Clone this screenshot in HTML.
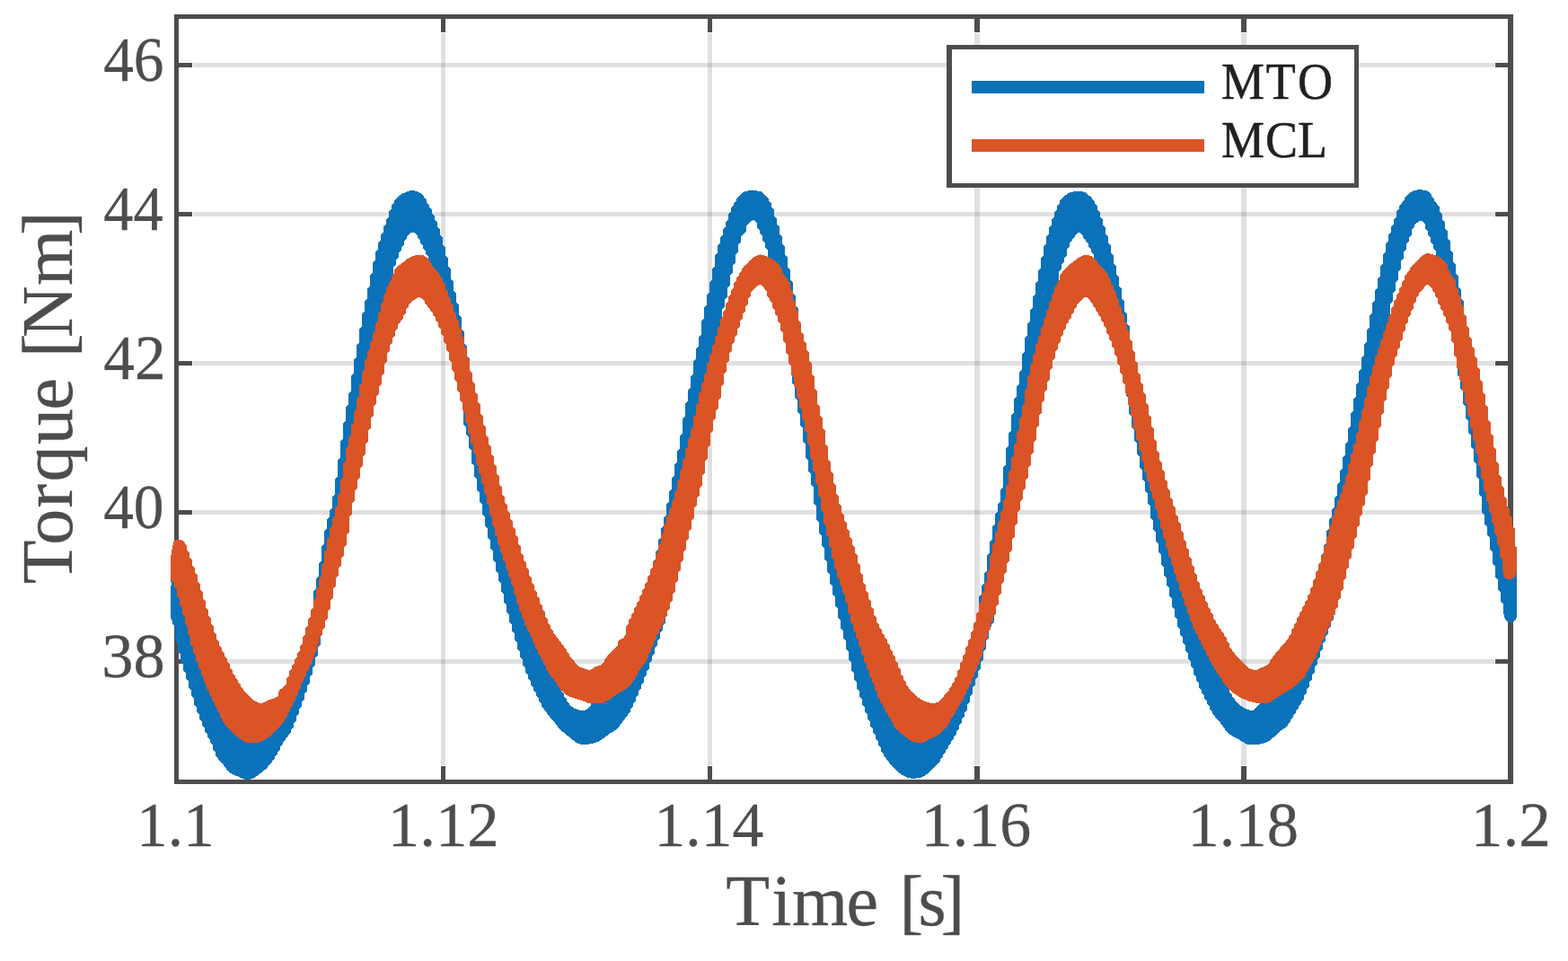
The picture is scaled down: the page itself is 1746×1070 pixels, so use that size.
<!DOCTYPE html>
<html lang="en"><head><meta charset="utf-8"><title>Torque vs Time</title>
<style>html,body{margin:0;padding:0;background:#fff;overflow:hidden}svg{display:block}</style>
</head><body>
<svg width="1746" height="1070" viewBox="0 0 1746 1070" role="img" aria-label="Torque [Nm] versus Time [s] for MTO and MCL">
<rect width="1746" height="1070" fill="#fff"/>
<g fill="rgb(100,100,110)" fill-opacity="0.2" shape-rendering="crispEdges"><rect x="491" y="37" width="5" height="815"/><rect x="788" y="37" width="5" height="815"/><rect x="1085" y="37" width="6" height="815"/><rect x="1382" y="37" width="6" height="815"/><rect x="215" y="70" width="1449" height="5"/><rect x="215" y="236" width="1449" height="5"/><rect x="215" y="402" width="1449" height="5"/><rect x="215" y="568" width="1449" height="5"/><rect x="215" y="734" width="1449" height="5"/></g>
<g fill="#4d4d4f" shape-rendering="crispEdges"><rect x="491" y="853" width="5" height="16"/><rect x="491" y="20" width="5" height="16"/><rect x="788" y="853" width="5" height="16"/><rect x="788" y="20" width="5" height="16"/><rect x="1085" y="853" width="6" height="16"/><rect x="1085" y="20" width="6" height="16"/><rect x="1382" y="853" width="6" height="16"/><rect x="1382" y="20" width="6" height="16"/><rect x="198" y="70" width="16" height="5"/><rect x="1665" y="70" width="15" height="5"/><rect x="198" y="236" width="16" height="5"/><rect x="1665" y="236" width="15" height="5"/><rect x="198" y="402" width="16" height="5"/><rect x="1665" y="402" width="15" height="5"/><rect x="198" y="568" width="16" height="5"/><rect x="1665" y="568" width="15" height="5"/><rect x="198" y="734" width="16" height="5"/><rect x="1665" y="734" width="15" height="5"/><path d="M194 16H1685V873H194Z M199 21V868H1679V21Z" fill-rule="evenodd"/></g>
<g shape-rendering="crispEdges"><path d="M189.5,637.8 190.2,636.3 190.2,635.5 193.2,635.1 196.2,638.6 196.2,642.3 199.2,645.3 199.2,649.4 202.2,652.4 202.2,656.9 205.2,659.9 205.2,664.8 208.2,666.3 211.2,666.3 214.2,666.3 217.2,666.3 220.2,670.4 220.2,676.6 223.2,679.6 223.2,685.8 226.2,688.8 226.2,695.1 229.2,698.1 229.2,704.3 232.2,707.3 232.2,712.5 235.2,715.5 235.2,720.8 238.2,723.8 238.2,729.0 241.2,732.0 241.2,736.0 244.2,739.0 244.2,742.3 247.2,745.3 247.2,748.2 250.2,751.2 250.2,753.6 253.2,756.6 253.2,758.9 256.2,761.9 256.2,765.1 259.2,768.1 259.2,770.0 262.2,773.0 262.2,774.2 265.2,777.2 265.2,778.5 268.2,781.5 268.2,782.4 271.2,785.6 274.2,788.6 277.2,790.7 280.2,792.6 283.2,794.2 286.2,795.2 289.2,795.8 292.2,795.6 295.2,794.2 298.2,792.5 301.2,790.9 304.2,789.3 307.2,787.8 310.2,785.4 310.2,781.7 313.2,778.7 316.2,776.2 319.2,772.5 319.2,766.2 322.2,763.2 322.2,759.7 325.2,756.7 325.2,753.5 328.2,750.5 328.2,746.9 331.2,743.9 331.2,739.8 334.2,736.8 334.2,731.5 337.2,728.5 337.2,722.6 340.2,719.6 340.2,713.7 343.2,710.7 343.2,704.8 346.2,701.8 346.2,695.7 349.2,692.7 349.2,658.5 352.2,655.5 352.2,644.2 355.2,641.2 355.2,627.4 358.2,624.4 358.2,607.9 361.2,604.9 361.2,591.0 364.2,588.0 364.2,578.3 367.2,575.3 367.2,568.5 370.2,565.5 370.2,553.1 373.2,550.1 373.2,533.1 376.2,530.1 376.2,512.8 379.2,509.8 379.2,491.5 382.2,488.5 382.2,471.4 385.2,468.4 385.2,453.5 388.2,450.5 388.2,438.4 391.2,435.4 391.2,418.7 394.2,415.7 394.2,400.3 397.2,397.3 397.2,384.5 400.2,381.5 400.2,366.6 403.2,363.6 403.2,349.8 406.2,346.8 406.2,335.8 409.2,332.8 409.2,321.8 412.2,318.8 412.2,306.2 415.2,303.2 415.2,292.2 418.2,289.2 418.2,280.6 421.2,277.6 421.2,270.5 424.2,267.5 424.2,261.0 427.2,258.0 427.2,252.1 430.2,249.1 430.2,244.4 433.2,241.4 433.2,235.2 436.2,232.2 436.2,228.3 439.2,225.3 439.2,223.4 442.2,220.2 445.2,217.6 448.2,215.6 451.2,214.2 454.2,213.0 457.2,212.2 460.2,212.1 463.2,212.7 466.2,213.9 469.2,215.4 472.2,218.3 472.2,219.9 475.2,222.9 475.2,225.3 478.2,228.3 478.2,231.2 481.2,234.2 481.2,237.6 484.2,240.6 484.2,244.6 487.2,247.6 487.2,253.1 490.2,256.1 490.2,262.1 493.2,265.1 493.2,272.4 496.2,275.4 496.2,284.3 499.2,287.3 499.2,297.0 502.2,300.0 502.2,310.5 505.2,313.5 505.2,323.9 508.2,326.9 508.2,337.1 511.2,340.1 511.2,351.0 514.2,354.0 514.2,366.8 517.2,369.8 517.2,383.2 520.2,386.2 520.2,396.6 523.2,399.6 523.2,437.3 526.2,440.3 526.2,448.8 529.2,451.8 529.2,460.8 532.2,463.8 532.2,472.4 535.2,475.4 535.2,484.3 538.2,487.3 538.2,496.5 541.2,499.5 541.2,508.0 544.2,511.0 544.2,518.6 547.2,521.6 547.2,529.7 550.2,532.7 550.2,541.0 553.2,544.0 553.2,551.9 556.2,554.9 556.2,562.7 559.2,565.7 559.2,572.8 562.2,575.8 562.2,582.2 565.2,585.2 565.2,590.9 568.2,593.9 568.2,599.5 571.2,602.5 571.2,608.8 574.2,611.8 574.2,618.5 577.2,621.5 577.2,628.5 580.2,631.5 580.2,637.5 583.2,640.5 583.2,645.7 586.2,648.7 586.2,653.4 589.2,656.4 589.2,660.9 592.2,663.9 592.2,668.5 595.2,671.5 595.2,676.3 598.2,679.3 598.2,685.5 601.2,688.5 601.2,696.5 604.2,699.5 604.2,707.6 607.2,710.6 607.2,718.6 610.2,721.6 610.2,729.7 613.2,732.7 613.2,736.8 616.2,739.8 616.2,740.9 619.2,743.9 619.2,759.2 622.2,762.2 622.2,764.1 625.2,767.1 625.2,769.6 628.2,772.6 628.2,776.0 631.2,779.0 631.2,780.5 634.2,783.5 634.2,784.3 637.2,787.2 640.2,788.9 643.2,790.0 646.2,790.8 649.2,791.1 652.2,790.5 655.2,788.5 658.2,785.5 658.2,780.5 661.2,777.5 661.2,772.6 664.2,770.9 667.2,768.1 667.2,764.2 670.2,761.2 670.2,757.3 673.2,754.3 673.2,750.4 676.2,747.4 676.2,745.6 679.2,742.5 682.2,739.9 685.2,737.1 688.2,733.6 688.2,732.2 691.2,729.7 694.2,727.3 694.2,725.4 697.2,722.4 697.2,717.7 700.2,714.7 700.2,712.2 703.2,709.2 703.2,706.5 706.2,703.5 706.2,700.4 709.2,697.4 709.2,694.3 712.2,691.3 712.2,688.2 715.2,685.2 715.2,682.1 718.2,679.1 718.2,675.4 721.2,672.4 721.2,668.1 724.2,665.1 724.2,660.3 727.2,657.3 727.2,625.6 730.2,622.6 730.2,614.6 733.2,611.6 733.2,601.8 736.2,598.8 736.2,588.7 739.2,585.7 739.2,576.5 742.2,573.5 742.2,561.3 745.2,558.3 745.2,547.7 748.2,544.7 748.2,532.4 751.2,529.4 751.2,517.1 754.2,514.1 754.2,501.9 757.2,498.9 757.2,485.5 760.2,482.5 760.2,466.7 763.2,463.7 763.2,449.3 766.2,446.3 766.2,434.3 769.2,431.3 769.2,419.7 772.2,416.7 772.2,402.5 775.2,399.5 775.2,388.7 778.2,385.7 778.2,374.9 781.2,371.9 781.2,356.9 784.2,353.9 784.2,342.0 787.2,339.0 787.2,328.4 790.2,325.4 790.2,314.6 793.2,311.6 793.2,298.9 796.2,295.9 796.2,284.6 799.2,281.6 799.2,273.5 802.2,270.5 802.2,264.0 805.2,261.0 805.2,255.4 808.2,252.4 808.2,247.0 811.2,244.0 811.2,238.7 814.2,235.7 814.2,231.4 817.2,228.4 817.2,226.4 820.2,223.4 820.2,221.6 823.2,218.6 823.2,217.9 826.2,215.1 829.2,213.4 832.2,212.6 835.2,212.2 838.2,212.0 841.2,212.2 844.2,212.6 847.2,213.2 850.2,215.4 853.2,218.3 853.2,218.9 856.2,221.9 856.2,224.1 859.2,227.1 859.2,231.1 862.2,234.1 862.2,240.6 865.2,243.6 865.2,250.2 868.2,253.2 868.2,260.8 871.2,263.8 871.2,271.3 874.2,274.3 874.2,283.5 877.2,286.5 877.2,297.7 880.2,300.7 880.2,312.1 883.2,315.1 883.2,326.9 886.2,329.9 886.2,340.5 889.2,343.5 889.2,386.9 892.2,389.9 892.2,399.1 895.2,402.1 895.2,410.0 898.2,413.0 898.2,421.3 901.2,424.3 901.2,434.3 904.2,437.3 904.2,449.6 907.2,452.6 907.2,465.8 910.2,468.8 910.2,480.8 913.2,483.8 913.2,494.6 916.2,497.6 916.2,509.6 919.2,512.6 919.2,526.2 922.2,529.2 922.2,541.4 925.2,544.4 925.2,554.2 928.2,557.2 928.2,566.6 931.2,569.6 931.2,578.0 934.2,581.0 934.2,588.5 937.2,591.5 937.2,597.9 940.2,600.9 940.2,606.9 943.2,609.9 943.2,616.4 946.2,619.4 946.2,626.2 949.2,629.2 949.2,635.6 952.2,638.6 952.2,644.6 955.2,647.6 955.2,654.8 958.2,657.8 958.2,665.6 961.2,668.6 961.2,675.3 964.2,678.3 964.2,683.9 967.2,686.9 967.2,692.6 970.2,695.6 970.2,701.4 973.2,704.4 973.2,709.9 976.2,712.9 976.2,717.3 979.2,720.3 979.2,723.6 982.2,726.6 982.2,729.1 985.2,732.1 985.2,734.6 988.2,737.6 988.2,740.5 991.2,743.5 991.2,746.7 994.2,749.7 994.2,753.1 997.2,756.1 997.2,759.1 1000.2,762.1 1000.2,764.9 1003.2,767.9 1003.2,770.8 1006.2,773.8 1006.2,776.1 1009.2,779.1 1009.2,780.4 1012.2,783.7 1015.2,786.8 1018.2,789.0 1021.2,790.9 1024.2,792.6 1027.2,793.8 1030.2,794.5 1033.2,794.5 1036.2,794.5 1039.2,794.5 1042.2,793.8 1045.2,792.2 1048.2,789.7 1051.2,786.5 1051.2,785.9 1054.2,782.9 1054.2,781.9 1057.2,778.9 1057.2,777.2 1060.2,774.2 1060.2,772.1 1063.2,769.1 1063.2,765.8 1066.2,762.8 1066.2,758.6 1069.2,755.6 1069.2,750.9 1072.2,747.9 1072.2,743.2 1075.2,740.2 1075.2,735.5 1078.2,732.5 1078.2,727.9 1081.2,724.9 1081.2,719.4 1084.2,716.4 1084.2,710.0 1087.2,707.0 1087.2,699.8 1090.2,696.8 1090.2,664.7 1093.2,661.7 1093.2,651.9 1096.2,648.9 1096.2,638.1 1099.2,635.1 1099.2,618.2 1102.2,615.2 1102.2,603.0 1105.2,600.0 1105.2,586.5 1108.2,583.5 1108.2,572.4 1111.2,569.4 1111.2,560.9 1114.2,557.9 1114.2,545.5 1117.2,542.5 1117.2,520.7 1120.2,517.7 1120.2,499.7 1123.2,496.7 1123.2,482.1 1126.2,479.1 1126.2,462.4 1129.2,459.4 1129.2,444.7 1132.2,441.7 1132.2,430.0 1135.2,427.0 1135.2,414.5 1138.2,411.5 1138.2,394.7 1141.2,391.7 1141.2,376.6 1144.2,373.6 1144.2,360.6 1147.2,357.6 1147.2,345.8 1150.2,342.8 1150.2,330.0 1153.2,327.0 1153.2,315.1 1156.2,312.1 1156.2,301.1 1159.2,298.1 1159.2,287.1 1162.2,284.1 1162.2,274.6 1165.2,271.6 1165.2,263.2 1168.2,260.2 1168.2,253.3 1171.2,250.3 1171.2,244.4 1174.2,241.4 1174.2,236.1 1177.2,233.1 1177.2,228.9 1180.2,225.9 1180.2,223.3 1183.2,220.0 1186.2,217.4 1189.2,215.5 1192.2,214.1 1195.2,213.4 1198.2,213.0 1201.2,212.9 1204.2,213.2 1207.2,213.8 1210.2,215.4 1213.2,218.2 1216.2,221.2 1216.2,222.1 1219.2,225.1 1219.2,227.1 1222.2,230.1 1222.2,233.5 1225.2,236.5 1225.2,241.4 1228.2,244.4 1228.2,250.8 1231.2,253.8 1231.2,260.3 1234.2,263.3 1234.2,270.6 1237.2,273.6 1237.2,282.0 1240.2,285.0 1240.2,293.9 1243.2,296.9 1243.2,306.0 1246.2,309.0 1246.2,318.7 1249.2,321.7 1249.2,332.7 1252.2,335.7 1252.2,346.5 1255.2,349.5 1255.2,361.0 1258.2,364.0 1258.2,389.2 1261.2,392.2 1261.2,415.9 1264.2,418.9 1264.2,428.5 1267.2,431.5 1267.2,441.0 1270.2,444.0 1270.2,451.9 1273.2,454.9 1273.2,463.1 1276.2,466.1 1276.2,475.2 1279.2,478.2 1279.2,487.7 1282.2,490.7 1282.2,499.9 1285.2,502.9 1285.2,512.5 1288.2,515.5 1288.2,524.4 1291.2,527.4 1291.2,535.3 1294.2,538.3 1294.2,546.0 1297.2,549.0 1297.2,556.3 1300.2,559.3 1300.2,566.3 1303.2,569.3 1303.2,576.0 1306.2,579.0 1306.2,585.5 1309.2,588.5 1309.2,594.9 1312.2,597.9 1312.2,603.9 1315.2,606.9 1315.2,613.3 1318.2,616.3 1318.2,622.9 1321.2,625.9 1321.2,632.3 1324.2,635.3 1324.2,641.4 1327.2,644.4 1327.2,650.2 1330.2,653.2 1330.2,658.4 1333.2,661.4 1333.2,666.2 1336.2,669.2 1336.2,673.5 1339.2,676.5 1339.2,680.4 1342.2,683.4 1342.2,687.1 1345.2,690.1 1345.2,696.0 1348.2,699.0 1348.2,707.0 1351.2,710.0 1351.2,717.9 1354.2,720.9 1354.2,728.8 1357.2,731.8 1357.2,736.7 1360.2,739.7 1360.2,741.1 1363.2,744.1 1363.2,760.1 1366.2,763.1 1366.2,765.0 1369.2,768.0 1369.2,770.9 1372.2,773.9 1372.2,776.2 1375.2,779.2 1375.2,780.1 1378.2,783.1 1381.2,785.6 1384.2,787.6 1387.2,789.3 1390.2,790.4 1393.2,791.0 1396.2,790.6 1399.2,787.6 1402.2,784.6 1405.2,782.0 1405.2,772.2 1408.2,770.5 1411.2,768.8 1411.2,765.2 1414.2,762.2 1414.2,757.9 1417.2,754.9 1417.2,750.5 1420.2,747.5 1420.2,743.2 1423.2,739.7 1426.2,736.7 1429.2,733.6 1432.2,730.4 1435.2,727.2 1435.2,725.7 1438.2,722.7 1438.2,720.7 1441.2,717.7 1441.2,715.4 1444.2,712.4 1444.2,710.2 1447.2,707.2 1447.2,705.0 1450.2,702.0 1450.2,699.8 1453.2,696.8 1453.2,693.9 1456.2,690.9 1456.2,687.5 1459.2,684.5 1459.2,680.2 1462.2,677.2 1462.2,672.3 1465.2,669.3 1465.2,664.0 1468.2,661.0 1468.2,655.5 1471.2,652.5 1471.2,618.3 1474.2,615.3 1474.2,607.4 1477.2,604.4 1477.2,591.8 1480.2,588.8 1480.2,578.6 1483.2,575.6 1483.2,567.1 1486.2,564.1 1486.2,554.4 1489.2,551.4 1489.2,539.1 1492.2,536.1 1492.2,524.4 1495.2,521.4 1495.2,509.8 1498.2,506.8 1498.2,494.1 1501.2,491.1 1501.2,477.3 1504.2,474.3 1504.2,460.6 1507.2,457.6 1507.2,444.5 1510.2,441.5 1510.2,428.2 1513.2,425.2 1513.2,413.0 1516.2,410.0 1516.2,398.1 1519.2,395.1 1519.2,383.5 1522.2,380.5 1522.2,366.9 1525.2,363.9 1525.2,351.1 1528.2,348.1 1528.2,337.2 1531.2,334.2 1531.2,323.7 1534.2,320.7 1534.2,310.2 1537.2,307.2 1537.2,296.7 1540.2,293.7 1540.2,283.5 1543.2,280.5 1543.2,271.5 1546.2,268.5 1546.2,261.4 1549.2,258.4 1549.2,252.6 1552.2,249.6 1552.2,244.4 1555.2,241.4 1555.2,235.3 1558.2,232.3 1558.2,229.5 1561.2,226.5 1561.2,225.0 1564.2,222.0 1564.2,220.8 1567.2,217.5 1570.2,214.5 1573.2,212.7 1576.2,211.8 1579.2,211.3 1582.2,211.2 1585.2,211.6 1588.2,212.3 1591.2,213.8 1594.2,217.1 1594.2,218.4 1597.2,221.4 1597.2,223.3 1600.2,226.3 1600.2,227.6 1603.2,230.6 1603.2,235.7 1606.2,238.7 1606.2,245.2 1609.2,248.2 1609.2,254.7 1612.2,257.7 1612.2,265.7 1615.2,268.7 1615.2,279.1 1618.2,282.1 1618.2,292.2 1621.2,295.2 1621.2,305.2 1624.2,308.2 1624.2,319.5 1627.2,322.5 1627.2,333.2 1630.2,336.2 1630.2,379.8 1633.2,382.8 1633.2,392.6 1636.2,395.6 1636.2,405.5 1639.2,408.5 1639.2,417.3 1642.2,420.3 1642.2,429.1 1645.2,432.1 1645.2,441.9 1648.2,444.9 1648.2,455.9 1651.2,458.9 1651.2,470.3 1654.2,473.3 1654.2,484.2 1657.2,487.2 1657.2,499.8 1660.2,502.8 1660.2,513.4 1663.2,516.4 1663.2,527.9 1666.2,530.9 1666.2,542.5 1669.2,545.5 1669.2,556.1 1672.2,559.1 1672.2,569.2 1675.2,572.2 1675.2,580.9 1678.2,583.9 1678.2,588.6 1681.2,591.6 1681.2,595.6 1684.2,598.6 1684.2,605.2 1687.2,608.2 1687.2,615.7 1689.0,617.6 1689.0,676.0 1688.7,677.5 1688.7,686.6 1685.7,689.6 1685.7,690.7 1682.7,692.7 1679.7,692.5 1676.7,690.4 1676.7,686.5 1673.7,683.5 1673.7,672.3 1670.7,669.3 1670.7,659.1 1667.7,656.1 1667.7,645.5 1664.7,642.5 1664.7,630.7 1661.7,627.7 1661.7,614.1 1658.7,611.1 1658.7,598.5 1655.7,595.5 1655.7,585.9 1652.7,582.9 1652.7,573.0 1649.7,570.0 1649.7,553.0 1646.7,550.0 1646.7,533.0 1643.7,530.0 1643.7,516.5 1640.7,513.5 1640.7,500.1 1637.7,497.1 1637.7,484.0 1634.7,481.0 1634.7,468.6 1631.7,465.6 1631.7,452.3 1628.7,449.3 1628.7,435.7 1625.7,432.7 1625.7,420.2 1622.7,417.2 1622.7,377.2 1619.7,374.2 1619.7,363.5 1616.7,360.5 1616.7,352.7 1613.7,349.7 1613.7,344.0 1610.7,341.0 1610.7,336.5 1607.7,333.5 1607.7,323.7 1604.7,320.7 1604.7,307.5 1601.7,304.5 1601.7,300.8 1598.7,297.8 1598.7,279.5 1595.7,276.5 1595.7,272.1 1592.7,269.1 1592.7,264.6 1589.7,261.6 1589.7,257.0 1586.7,254.0 1586.7,249.7 1583.7,245.5 1580.7,245.9 1577.7,248.2 1574.7,251.1 1574.7,252.6 1571.7,255.6 1571.7,262.1 1568.7,265.1 1568.7,268.8 1565.7,271.8 1565.7,277.9 1562.7,280.9 1562.7,287.9 1559.7,290.9 1559.7,299.4 1556.7,302.4 1556.7,311.9 1553.7,314.9 1553.7,324.3 1550.7,327.3 1550.7,335.5 1547.7,338.5 1547.7,374.9 1544.7,377.9 1544.7,384.9 1541.7,387.9 1541.7,395.8 1538.7,398.8 1538.7,406.8 1535.7,409.8 1535.7,417.5 1532.7,420.5 1532.7,430.8 1529.7,433.8 1529.7,447.2 1526.7,450.2 1526.7,463.7 1523.7,466.7 1523.7,480.1 1520.7,483.1 1520.7,496.6 1517.7,499.6 1517.7,513.0 1514.7,516.0 1514.7,529.5 1511.7,532.5 1511.7,545.9 1508.7,548.9 1508.7,562.4 1505.7,565.4 1505.7,578.8 1502.7,581.8 1502.7,595.3 1499.7,598.3 1499.7,607.8 1496.7,610.8 1496.7,619.1 1493.7,622.1 1493.7,629.5 1490.7,632.5 1490.7,638.8 1487.7,641.8 1487.7,647.2 1484.7,650.2 1484.7,690.0 1481.7,693.0 1481.7,697.6 1478.7,700.6 1478.7,705.5 1475.7,708.5 1475.7,713.8 1472.7,716.8 1472.7,722.7 1469.7,725.7 1469.7,731.6 1466.7,734.6 1466.7,740.0 1463.7,743.0 1463.7,748.4 1460.7,751.4 1460.7,756.7 1457.7,759.7 1457.7,764.8 1454.7,767.8 1454.7,772.3 1451.7,775.3 1451.7,778.4 1448.7,781.4 1448.7,783.7 1445.7,786.7 1445.7,788.5 1442.7,791.5 1442.7,793.5 1439.7,796.5 1439.7,798.6 1436.7,801.6 1436.7,803.8 1433.7,806.8 1433.7,807.4 1430.7,810.4 1427.7,812.7 1424.7,814.6 1421.7,817.4 1418.7,820.4 1415.7,823.0 1412.7,825.1 1409.7,826.5 1406.7,827.6 1403.7,828.4 1400.7,829.1 1397.7,829.3 1394.7,829.3 1391.7,829.3 1388.7,828.7 1385.7,827.1 1382.7,825.4 1379.7,823.4 1376.7,821.6 1373.7,820.3 1370.7,818.6 1367.7,816.1 1364.7,812.8 1361.7,809.5 1361.7,808.5 1358.7,805.5 1358.7,804.6 1355.7,801.3 1352.7,798.0 1352.7,797.0 1349.7,794.0 1349.7,792.1 1346.7,789.1 1346.7,786.5 1343.7,783.5 1343.7,780.4 1340.7,777.4 1340.7,774.4 1337.7,771.4 1337.7,768.1 1334.7,765.1 1334.7,760.6 1331.7,757.6 1331.7,752.8 1328.7,749.8 1328.7,744.5 1325.7,741.5 1325.7,735.8 1322.7,732.8 1322.7,727.0 1319.7,724.0 1319.7,718.4 1316.7,715.4 1316.7,709.7 1313.7,706.7 1313.7,700.4 1310.7,697.4 1310.7,689.7 1307.7,686.7 1307.7,678.3 1304.7,675.3 1304.7,666.4 1301.7,663.4 1301.7,654.5 1298.7,651.5 1298.7,642.9 1295.7,639.9 1295.7,630.9 1292.7,627.9 1292.7,617.4 1289.7,614.4 1289.7,604.8 1286.7,601.8 1286.7,592.4 1283.7,589.4 1283.7,579.0 1280.7,576.0 1280.7,563.5 1277.7,560.5 1277.7,549.1 1274.7,546.1 1274.7,536.1 1271.7,533.1 1271.7,522.9 1268.7,519.9 1268.7,508.2 1265.7,505.2 1265.7,493.2 1262.7,490.2 1262.7,478.2 1259.7,475.2 1259.7,463.6 1256.7,460.6 1256.7,443.6 1253.7,440.6 1253.7,409.1 1250.7,406.1 1250.7,398.9 1247.7,395.9 1247.7,388.9 1244.7,385.9 1244.7,379.2 1241.7,376.2 1241.7,370.5 1238.7,367.5 1238.7,362.6 1235.7,359.6 1235.7,352.6 1232.7,349.6 1232.7,339.7 1229.7,336.7 1229.7,326.8 1226.7,323.8 1226.7,314.5 1223.7,311.5 1223.7,310.7 1220.7,307.7 1220.7,295.1 1217.7,292.1 1217.7,283.1 1214.7,280.1 1214.7,277.3 1211.7,274.3 1211.7,271.7 1208.7,268.7 1208.7,267.0 1205.7,264.0 1205.7,262.0 1202.7,258.7 1199.7,259.7 1196.7,263.0 1196.7,263.8 1193.7,266.8 1193.7,268.0 1190.7,271.0 1190.7,274.7 1187.7,277.7 1187.7,284.4 1184.7,287.4 1184.7,291.5 1181.7,294.5 1181.7,299.7 1178.7,302.7 1178.7,335.3 1175.7,338.3 1175.7,342.5 1172.7,345.5 1172.7,351.7 1169.7,354.7 1169.7,362.9 1166.7,365.9 1166.7,378.8 1163.7,381.8 1163.7,394.7 1160.7,397.7 1160.7,410.6 1157.7,413.6 1157.7,426.5 1154.7,429.5 1154.7,442.4 1151.7,445.4 1151.7,458.3 1148.7,461.3 1148.7,474.2 1145.7,477.2 1145.7,490.1 1142.7,493.1 1142.7,506.0 1139.7,509.0 1139.7,521.9 1136.7,524.9 1136.7,535.4 1133.7,538.4 1133.7,549.6 1130.7,552.6 1130.7,564.9 1127.7,567.9 1127.7,579.8 1124.7,582.8 1124.7,593.4 1121.7,596.4 1121.7,606.1 1118.7,609.1 1118.7,619.2 1115.7,622.2 1115.7,631.3 1112.7,634.3 1112.7,643.5 1109.7,646.5 1109.7,654.8 1106.7,657.8 1106.7,692.9 1103.7,695.9 1103.7,697.5 1100.7,700.5 1100.7,711.1 1097.7,714.1 1097.7,723.3 1094.7,726.3 1094.7,734.9 1091.7,737.9 1091.7,745.1 1088.7,748.1 1088.7,754.2 1085.7,757.2 1085.7,763.1 1082.7,766.1 1082.7,772.5 1079.7,775.5 1079.7,781.8 1076.7,784.8 1076.7,790.4 1073.7,793.4 1073.7,798.1 1070.7,801.1 1070.7,805.1 1067.7,808.1 1067.7,812.0 1064.7,815.0 1064.7,817.7 1061.7,820.7 1061.7,822.8 1058.7,825.8 1058.7,827.8 1055.7,830.8 1055.7,832.8 1052.7,835.8 1052.7,837.8 1049.7,840.8 1049.7,843.0 1046.7,846.0 1046.7,847.9 1043.7,851.2 1040.7,854.1 1037.7,856.9 1034.7,859.7 1031.7,862.2 1028.7,864.1 1025.7,865.6 1022.7,866.2 1019.7,866.6 1016.7,866.7 1013.7,866.5 1010.7,865.6 1007.7,864.4 1004.7,862.9 1001.7,860.9 998.7,858.5 995.7,855.5 992.7,852.1 989.7,848.9 989.7,848.1 986.7,845.1 986.7,843.8 983.7,840.8 983.7,838.8 980.7,835.8 980.7,832.4 977.7,829.4 977.7,825.1 974.7,822.1 974.7,818.1 971.7,815.1 971.7,810.9 968.7,807.9 968.7,803.4 965.7,800.4 965.7,795.4 962.7,792.4 962.7,787.1 959.7,784.1 959.7,778.3 956.7,775.3 956.7,769.1 953.7,766.1 953.7,759.4 950.7,756.4 950.7,749.1 947.7,746.1 947.7,737.6 944.7,734.6 944.7,725.3 941.7,722.3 941.7,713.1 938.7,710.1 938.7,702.1 935.7,699.1 935.7,690.2 932.7,687.2 932.7,677.0 929.7,674.0 929.7,664.5 926.7,661.5 926.7,652.1 923.7,649.1 923.7,638.8 920.7,635.8 920.7,625.0 917.7,622.0 917.7,610.2 914.7,607.2 914.7,596.0 911.7,593.0 911.7,581.3 908.7,578.3 908.7,563.5 905.7,560.5 905.7,542.3 902.7,539.3 902.7,527.5 899.7,524.5 899.7,512.2 896.7,509.2 896.7,494.5 893.7,491.5 893.7,476.7 890.7,473.7 890.7,460.8 887.7,457.8 887.7,444.8 884.7,441.8 884.7,429.0 881.7,426.0 881.7,383.9 878.7,380.9 878.7,372.7 875.7,369.7 875.7,362.5 872.7,359.5 872.7,352.3 869.7,349.3 869.7,343.1 866.7,340.1 866.7,335.0 863.7,332.0 863.7,319.2 860.7,316.2 860.7,304.6 857.7,301.6 857.7,292.8 854.7,289.8 854.7,278.6 851.7,275.6 851.7,269.9 848.7,266.9 848.7,262.4 845.7,259.4 845.7,256.1 842.7,253.1 842.7,248.5 839.7,245.1 836.7,246.0 833.7,248.3 830.7,251.9 830.7,257.6 827.7,260.7 824.7,263.9 824.7,269.7 821.7,272.7 821.7,281.0 818.7,284.0 818.7,292.4 815.7,295.4 815.7,304.3 812.7,307.3 812.7,318.0 809.7,321.0 809.7,330.9 806.7,333.9 806.7,342.1 803.7,345.1 803.7,380.8 800.7,383.8 800.7,391.7 797.7,394.7 797.7,402.0 794.7,405.0 794.7,412.6 791.7,415.6 791.7,424.2 788.7,427.2 788.7,436.7 785.7,439.7 785.7,450.7 782.7,453.7 782.7,466.9 779.7,469.9 779.7,483.2 776.7,486.2 776.7,499.5 773.7,502.5 773.7,515.8 770.7,518.8 770.7,532.1 767.7,535.1 767.7,548.4 764.7,551.4 764.7,564.7 761.7,567.7 761.7,580.9 758.7,583.9 758.7,597.2 755.7,600.2 755.7,612.1 752.7,615.1 752.7,623.6 749.7,626.6 749.7,633.8 746.7,636.8 746.7,643.1 743.7,646.1 743.7,651.2 740.7,654.2 740.7,694.0 737.7,697.0 737.7,702.0 734.7,705.0 734.7,710.7 731.7,713.7 731.7,719.3 728.7,722.3 728.7,727.8 725.7,730.8 725.7,736.3 722.7,739.3 722.7,744.5 719.7,747.5 719.7,752.3 716.7,755.3 716.7,759.7 713.7,762.7 713.7,767.0 710.7,770.0 710.7,774.3 707.7,777.3 707.7,781.2 704.7,784.2 704.7,787.3 701.7,790.3 701.7,792.6 698.7,795.6 698.7,797.2 695.7,800.2 695.7,801.3 692.7,804.3 692.7,805.0 689.7,808.0 689.7,808.6 686.7,811.7 683.7,814.0 680.7,815.7 677.7,817.7 674.7,820.0 671.7,822.2 668.7,824.3 665.7,826.1 662.7,827.1 659.7,827.8 656.7,828.4 653.7,828.9 650.7,829.2 647.7,829.1 644.7,828.1 641.7,826.7 638.7,824.5 635.7,822.0 632.7,819.7 629.7,817.3 626.7,814.7 623.7,811.9 620.7,808.7 617.7,805.5 617.7,804.7 614.7,801.7 614.7,800.9 611.7,797.9 611.7,797.3 608.7,794.3 608.7,793.5 605.7,790.5 605.7,788.9 602.7,785.9 602.7,783.6 599.7,780.6 599.7,777.6 596.7,774.6 596.7,771.6 593.7,768.6 593.7,765.6 590.7,762.6 590.7,758.6 587.7,755.6 587.7,750.8 584.7,747.8 584.7,742.8 581.7,739.8 581.7,734.4 578.7,731.4 578.7,725.4 575.7,722.4 575.7,715.7 572.7,712.7 572.7,705.4 569.7,702.4 569.7,695.1 566.7,692.1 566.7,684.3 563.7,681.3 563.7,672.8 560.7,669.8 560.7,660.8 557.7,657.8 557.7,649.4 554.7,646.4 554.7,638.4 551.7,635.4 551.7,626.1 548.7,623.1 548.7,613.1 545.7,610.1 545.7,600.8 542.7,597.8 542.7,588.6 539.7,585.6 539.7,575.4 536.7,572.4 536.7,560.9 533.7,557.9 533.7,548.5 530.7,545.5 530.7,533.6 527.7,530.6 527.7,518.7 524.7,515.7 524.7,501.5 521.7,498.5 521.7,486.6 518.7,483.6 518.7,474.9 515.7,471.9 515.7,427.5 512.7,424.5 512.7,417.0 509.7,414.0 509.7,406.5 506.7,403.5 506.7,395.7 503.7,392.7 503.7,385.3 500.7,382.3 500.7,375.5 497.7,372.5 497.7,366.5 494.7,363.5 494.7,358.3 491.7,355.3 491.7,349.2 488.7,346.2 488.7,336.1 485.7,333.1 485.7,323.0 482.7,320.0 482.7,312.4 479.7,309.4 479.7,307.6 476.7,304.6 476.7,285.6 473.7,282.6 473.7,279.6 470.7,276.6 470.7,273.4 467.7,270.4 467.7,267.5 464.7,264.5 464.7,262.5 461.7,259.0 458.7,258.4 455.7,260.9 452.7,264.3 452.7,265.9 449.7,268.9 449.7,272.5 446.7,275.5 446.7,279.1 443.7,282.1 443.7,287.0 440.7,290.0 440.7,295.3 437.7,298.3 437.7,329.0 434.7,332.0 434.7,335.9 431.7,338.9 431.7,343.8 428.7,346.8 428.7,353.6 425.7,356.6 425.7,366.2 422.7,369.2 422.7,381.6 419.7,384.6 419.7,397.0 416.7,400.0 416.7,412.3 413.7,415.3 413.7,427.7 410.7,430.7 410.7,443.0 407.7,446.0 407.7,458.4 404.7,461.4 404.7,473.8 401.7,476.8 401.7,489.1 398.7,492.1 398.7,504.5 395.7,507.5 395.7,519.8 392.7,522.8 392.7,535.2 389.7,538.2 389.7,550.6 386.7,553.6 386.7,565.9 383.7,568.9 383.7,581.3 380.7,584.3 380.7,596.6 377.7,599.6 377.7,612.0 374.7,615.0 374.7,624.6 371.7,627.6 371.7,637.1 368.7,640.1 368.7,649.3 365.7,652.3 365.7,660.9 362.7,663.9 362.7,672.0 359.7,675.0 359.7,682.7 356.7,685.7 356.7,718.3 353.7,721.3 353.7,729.4 350.7,732.4 350.7,740.7 347.7,743.7 347.7,750.7 344.7,753.7 344.7,760.9 341.7,763.9 341.7,770.3 338.7,773.3 338.7,778.8 335.7,781.8 335.7,787.0 332.7,790.0 332.7,795.2 329.7,798.2 329.7,803.3 326.7,806.3 326.7,810.1 323.7,813.1 323.7,815.7 320.7,818.7 320.7,820.0 317.7,823.0 317.7,824.3 314.7,827.3 314.7,829.3 311.7,832.3 311.7,834.6 308.7,837.6 308.7,839.9 305.7,842.9 305.7,844.8 302.7,847.8 302.7,848.9 299.7,852.2 296.7,855.5 293.7,858.2 290.7,860.5 287.7,862.7 284.7,865.0 281.7,867.0 278.7,867.6 275.7,867.6 272.7,867.6 269.7,867.0 266.7,865.6 263.7,864.1 260.7,862.8 257.7,861.4 254.7,859.4 251.7,856.5 251.7,855.7 248.7,852.7 248.7,851.7 245.7,848.7 245.7,848.0 242.7,845.0 242.7,843.9 239.7,840.9 239.7,837.6 236.7,834.6 236.7,829.6 233.7,826.6 233.7,823.7 230.7,820.7 230.7,817.6 227.7,814.6 227.7,810.7 224.7,807.7 224.7,803.3 221.7,800.3 221.7,795.4 218.7,792.4 218.7,786.8 215.7,783.8 215.7,777.5 212.7,774.5 212.7,768.1 209.7,765.1 209.7,758.7 206.7,755.7 206.7,749.3 203.7,746.3 203.7,739.1 200.7,736.1 200.7,728.0 197.7,725.0 197.7,716.2 194.7,713.2 194.7,697.7 191.7,694.7 191.7,660.4 189.5,637.8Z" fill="#0a72b9"/><path d="M196.5,655V686 M1682,657V685.8" stroke="#0a72b9" fill="none" stroke-width="14" stroke-linecap="round" stroke-linejoin="round"/><path d="M189.5,624.2 192.5,606.5 192.5,603.4 195.5,601.1 198.5,600.9 201.5,601.5 204.5,603.4 207.5,606.7 207.5,611.9 210.5,614.9 210.5,620.3 213.5,623.3 213.5,628.6 216.5,631.6 216.5,637.2 219.5,640.2 219.5,646.6 222.5,649.6 222.5,656.5 225.5,659.5 225.5,666.1 228.5,669.1 228.5,676.3 231.5,679.3 231.5,684.9 234.5,687.9 234.5,694.0 237.5,697.0 237.5,703.3 240.5,706.3 240.5,711.2 243.5,714.2 243.5,717.7 246.5,720.7 246.5,723.8 249.5,726.8 249.5,729.7 252.5,732.7 252.5,735.7 255.5,738.7 255.5,742.9 258.5,745.9 258.5,749.3 261.5,752.3 261.5,754.1 264.5,757.1 264.5,759.2 267.5,762.2 267.5,764.2 270.5,767.2 270.5,768.2 273.5,771.4 276.5,774.4 279.5,777.2 282.5,779.6 285.5,781.2 288.5,782.5 291.5,783.0 294.5,782.1 297.5,780.3 300.5,779.0 303.5,777.9 306.5,777.1 309.5,775.1 309.5,770.8 312.5,767.2 315.5,765.3 318.5,762.4 318.5,755.7 321.5,752.7 321.5,748.1 324.5,745.1 324.5,742.0 327.5,739.0 327.5,735.3 330.5,732.3 330.5,728.0 333.5,725.0 333.5,719.9 336.5,716.9 336.5,710.3 339.5,707.3 339.5,700.2 342.5,697.2 342.5,690.3 345.5,687.3 345.5,680.2 348.5,677.2 348.5,669.3 351.5,666.3 351.5,657.4 354.5,654.4 354.5,645.1 357.5,642.1 357.5,630.0 360.5,627.0 360.5,615.3 363.5,612.3 363.5,601.2 366.5,598.2 366.5,589.3 369.5,586.3 369.5,577.8 372.5,574.8 372.5,566.0 375.5,563.0 375.5,552.1 378.5,549.1 378.5,535.4 381.5,532.4 381.5,517.2 384.5,514.2 384.5,500.3 387.5,497.3 387.5,488.0 390.5,485.0 390.5,473.5 393.5,470.5 393.5,458.5 396.5,455.5 396.5,445.1 399.5,442.1 399.5,430.0 402.5,427.0 402.5,414.7 405.5,411.7 405.5,402.0 408.5,399.0 408.5,391.9 411.5,388.9 411.5,382.1 414.5,379.1 414.5,371.7 417.5,368.7 417.5,360.8 420.5,357.8 420.5,349.6 423.5,346.6 423.5,338.9 426.5,335.9 426.5,328.9 429.5,325.9 429.5,321.1 432.5,318.1 432.5,315.0 435.5,312.0 435.5,308.3 438.5,305.3 438.5,301.3 441.5,298.0 444.5,295.5 447.5,293.2 450.5,290.7 453.5,288.5 456.5,286.8 459.5,285.4 462.5,284.3 465.5,283.5 468.5,283.5 471.5,284.5 474.5,286.5 477.5,289.1 477.5,289.9 480.5,292.9 480.5,295.0 483.5,298.0 483.5,299.0 486.5,302.2 489.5,305.5 489.5,307.0 492.5,310.0 492.5,313.3 495.5,316.3 495.5,320.6 498.5,323.6 498.5,328.6 501.5,331.6 501.5,337.1 504.5,340.1 504.5,345.7 507.5,348.7 507.5,354.0 510.5,357.0 510.5,362.8 513.5,365.8 513.5,373.2 516.5,376.2 516.5,384.7 519.5,387.7 519.5,397.0 522.5,400.0 522.5,412.2 525.5,415.2 525.5,423.9 528.5,426.9 528.5,435.6 531.5,438.6 531.5,447.5 534.5,450.5 534.5,459.9 537.5,462.9 537.5,472.5 540.5,475.5 540.5,484.2 543.5,487.2 543.5,494.5 546.5,497.5 546.5,504.8 549.5,507.8 549.5,516.0 552.5,519.0 552.5,527.4 555.5,530.4 555.5,539.0 558.5,542.0 558.5,549.8 561.5,552.8 561.5,559.4 564.5,562.4 564.5,568.2 567.5,571.2 567.5,576.8 570.5,579.8 570.5,585.7 573.5,588.7 573.5,595.1 576.5,598.1 576.5,605.2 579.5,608.2 579.5,614.7 582.5,617.7 582.5,623.2 585.5,626.2 585.5,631.5 588.5,634.5 588.5,639.7 591.5,642.7 591.5,647.9 594.5,650.9 594.5,655.9 597.5,658.9 597.5,663.5 600.5,666.5 600.5,670.6 603.5,673.6 603.5,678.1 606.5,681.1 606.5,686.4 609.5,689.4 609.5,693.0 612.5,696.0 612.5,698.7 615.5,701.7 615.5,703.7 618.5,706.7 618.5,708.3 621.5,711.3 621.5,712.2 624.5,715.4 627.5,718.8 627.5,720.3 630.5,723.3 630.5,725.4 633.5,728.4 633.5,729.6 636.5,732.6 636.5,733.2 639.5,736.4 642.5,739.9 645.5,742.6 648.5,743.9 651.5,744.8 654.5,745.8 657.5,745.9 660.5,743.9 663.5,742.1 666.5,741.3 669.5,740.3 672.5,737.1 672.5,735.4 675.5,732.4 675.5,731.2 678.5,727.9 681.5,724.9 684.5,722.1 687.5,718.6 687.5,715.4 690.5,712.5 693.5,710.7 696.5,707.3 696.5,698.0 699.5,695.0 699.5,691.3 702.5,688.3 702.5,684.7 705.5,681.7 705.5,678.3 708.5,675.3 708.5,671.8 711.5,668.8 711.5,665.2 714.5,662.2 714.5,658.2 717.5,655.2 717.5,650.8 720.5,647.8 720.5,643.2 723.5,640.2 723.5,635.2 726.5,632.2 726.5,627.0 729.5,624.0 729.5,618.3 732.5,615.3 732.5,607.8 735.5,604.8 735.5,595.7 738.5,592.7 738.5,584.7 741.5,581.7 741.5,575.9 744.5,572.9 744.5,567.8 747.5,564.8 747.5,558.6 750.5,555.6 750.5,548.5 753.5,545.5 753.5,537.4 756.5,534.4 756.5,525.2 759.5,522.2 759.5,512.6 762.5,509.6 762.5,500.7 765.5,497.7 765.5,490.1 768.5,487.1 768.5,478.5 771.5,475.5 771.5,465.4 774.5,462.4 774.5,451.8 777.5,448.8 777.5,439.0 780.5,436.0 780.5,428.0 783.5,425.0 783.5,417.6 786.5,414.6 786.5,406.4 789.5,403.4 789.5,395.6 792.5,392.6 792.5,385.9 795.5,382.9 795.5,376.4 798.5,373.4 798.5,366.3 801.5,363.3 801.5,356.4 804.5,353.4 804.5,347.5 807.5,344.5 807.5,339.1 810.5,336.1 810.5,331.0 813.5,328.0 813.5,323.7 816.5,320.7 816.5,316.4 819.5,313.4 819.5,310.1 822.5,307.1 822.5,304.5 825.5,301.5 825.5,299.8 828.5,296.5 831.5,293.7 834.5,290.5 837.5,287.7 840.5,285.8 843.5,284.2 846.5,283.4 849.5,283.8 852.5,285.0 855.5,286.3 858.5,287.6 861.5,289.3 864.5,291.6 867.5,294.6 867.5,295.7 870.5,298.7 870.5,303.5 873.5,306.5 873.5,307.3 876.5,310.3 876.5,312.2 879.5,315.2 879.5,321.1 882.5,324.1 882.5,333.1 885.5,336.1 885.5,344.1 888.5,347.1 888.5,356.5 891.5,359.5 891.5,368.9 894.5,371.9 894.5,379.4 897.5,382.4 897.5,389.3 900.5,392.3 900.5,400.9 903.5,403.9 903.5,415.8 906.5,418.8 906.5,432.4 909.5,435.4 909.5,449.0 912.5,452.0 912.5,462.0 915.5,465.0 915.5,476.3 918.5,479.3 918.5,493.8 921.5,496.8 921.5,510.8 924.5,513.8 924.5,524.2 927.5,527.2 927.5,536.9 930.5,539.9 930.5,548.9 933.5,551.9 933.5,560.3 936.5,563.3 936.5,570.3 939.5,573.3 939.5,579.3 942.5,582.3 942.5,587.8 945.5,590.8 945.5,596.7 948.5,599.7 948.5,606.1 951.5,609.1 951.5,615.3 954.5,618.3 954.5,625.9 957.5,628.9 957.5,637.4 960.5,640.4 960.5,647.8 963.5,650.8 963.5,656.7 966.5,659.7 966.5,665.6 969.5,668.6 969.5,675.1 972.5,678.1 972.5,684.1 975.5,687.1 975.5,691.7 978.5,694.7 978.5,698.1 981.5,701.1 981.5,703.7 984.5,706.7 984.5,709.2 987.5,712.2 987.5,715.2 990.5,718.2 990.5,721.6 993.5,724.6 993.5,728.4 996.5,731.4 996.5,735.4 999.5,738.4 999.5,742.4 1002.5,745.4 1002.5,749.6 1005.5,752.6 1005.5,756.5 1008.5,759.5 1008.5,762.0 1011.5,765.0 1011.5,766.3 1014.5,769.5 1017.5,772.4 1020.5,775.0 1023.5,777.4 1026.5,779.3 1029.5,780.7 1032.5,781.7 1035.5,782.5 1038.5,783.0 1041.5,782.8 1044.5,781.6 1047.5,779.5 1050.5,776.3 1050.5,775.3 1053.5,772.3 1053.5,771.5 1056.5,768.5 1056.5,767.2 1059.5,764.2 1059.5,762.3 1062.5,759.3 1062.5,755.9 1065.5,752.9 1065.5,748.0 1068.5,745.0 1068.5,739.3 1071.5,736.3 1071.5,730.9 1074.5,727.9 1074.5,722.2 1077.5,719.2 1077.5,713.8 1080.5,710.8 1080.5,705.1 1083.5,702.1 1083.5,695.1 1086.5,692.1 1086.5,683.7 1089.5,680.7 1089.5,672.5 1092.5,669.5 1092.5,661.6 1095.5,658.6 1095.5,650.5 1098.5,647.5 1098.5,636.8 1101.5,633.8 1101.5,620.0 1104.5,617.0 1104.5,606.6 1107.5,603.6 1107.5,593.6 1110.5,590.6 1110.5,581.6 1113.5,578.6 1113.5,570.7 1116.5,567.7 1116.5,557.8 1119.5,554.8 1119.5,541.7 1122.5,538.7 1122.5,526.4 1125.5,523.4 1125.5,511.4 1128.5,508.4 1128.5,496.4 1131.5,493.4 1131.5,481.5 1134.5,478.5 1134.5,467.4 1137.5,464.4 1137.5,452.8 1140.5,449.8 1140.5,435.1 1143.5,432.1 1143.5,420.1 1146.5,417.1 1146.5,407.0 1149.5,404.0 1149.5,395.6 1152.5,392.6 1152.5,385.3 1155.5,382.3 1155.5,375.8 1158.5,372.8 1158.5,366.2 1161.5,363.2 1161.5,356.2 1164.5,353.2 1164.5,346.5 1167.5,343.5 1167.5,337.5 1170.5,334.5 1170.5,328.5 1173.5,325.5 1173.5,320.8 1176.5,317.8 1176.5,314.7 1179.5,311.7 1179.5,306.9 1182.5,303.9 1182.5,302.8 1185.5,299.8 1188.5,296.9 1191.5,294.3 1194.5,291.9 1197.5,289.5 1200.5,287.5 1203.5,285.7 1206.5,284.3 1209.5,283.9 1212.5,284.3 1215.5,285.0 1218.5,287.4 1218.5,288.0 1221.5,291.0 1221.5,291.8 1224.5,294.7 1227.5,297.5 1230.5,300.7 1230.5,302.0 1233.5,305.0 1233.5,307.6 1236.5,310.6 1236.5,314.9 1239.5,317.9 1239.5,322.1 1242.5,325.1 1242.5,329.9 1245.5,332.9 1245.5,338.9 1248.5,341.9 1248.5,347.9 1251.5,350.9 1251.5,356.9 1254.5,359.9 1254.5,366.5 1257.5,369.5 1257.5,377.1 1260.5,380.1 1260.5,388.7 1263.5,391.7 1263.5,401.1 1266.5,404.1 1266.5,413.9 1269.5,416.9 1269.5,425.0 1272.5,428.0 1272.5,435.6 1275.5,438.6 1275.5,447.7 1278.5,450.7 1278.5,461.1 1281.5,464.1 1281.5,474.4 1284.5,477.4 1284.5,487.7 1287.5,490.7 1287.5,500.6 1290.5,503.6 1290.5,511.7 1293.5,514.7 1293.5,522.4 1296.5,525.4 1296.5,532.8 1299.5,535.8 1299.5,542.8 1302.5,545.8 1302.5,552.6 1305.5,555.6 1305.5,562.2 1308.5,565.2 1308.5,571.6 1311.5,574.6 1311.5,580.4 1314.5,583.4 1314.5,589.9 1317.5,592.9 1317.5,599.7 1320.5,602.7 1320.5,609.4 1323.5,612.4 1323.5,618.9 1326.5,621.9 1326.5,628.3 1329.5,631.3 1329.5,637.3 1332.5,640.3 1332.5,646.0 1335.5,649.0 1335.5,653.9 1338.5,656.9 1338.5,661.3 1341.5,664.3 1341.5,668.4 1344.5,671.4 1344.5,674.9 1347.5,677.9 1347.5,681.3 1350.5,684.3 1350.5,687.9 1353.5,690.9 1353.5,693.3 1356.5,696.3 1356.5,697.9 1359.5,700.9 1359.5,702.4 1362.5,705.4 1362.5,707.5 1365.5,710.5 1365.5,713.5 1368.5,716.5 1368.5,719.7 1371.5,722.7 1371.5,724.3 1374.5,727.3 1374.5,727.9 1377.5,731.0 1380.5,733.9 1383.5,736.9 1386.5,739.9 1389.5,743.1 1392.5,744.8 1395.5,745.8 1398.5,746.1 1401.5,744.9 1404.5,743.2 1407.5,742.3 1410.5,741.1 1413.5,738.0 1413.5,736.4 1416.5,733.4 1416.5,732.3 1419.5,729.3 1419.5,728.4 1422.5,725.1 1425.5,721.5 1428.5,718.3 1428.5,717.6 1431.5,714.6 1431.5,713.7 1434.5,710.7 1434.5,708.6 1437.5,705.6 1437.5,702.3 1440.5,699.3 1440.5,695.7 1443.5,692.7 1443.5,689.2 1446.5,686.2 1446.5,683.0 1449.5,680.0 1449.5,677.0 1452.5,674.0 1452.5,670.8 1455.5,667.8 1455.5,664.1 1458.5,661.1 1458.5,656.1 1461.5,653.1 1461.5,647.2 1464.5,644.2 1464.5,638.2 1467.5,635.2 1467.5,629.1 1470.5,626.1 1470.5,619.7 1473.5,616.7 1473.5,609.8 1476.5,606.8 1476.5,598.6 1479.5,595.6 1479.5,587.4 1482.5,584.4 1482.5,577.0 1485.5,574.0 1485.5,567.7 1488.5,564.7 1488.5,559.4 1491.5,556.4 1491.5,551.1 1494.5,548.1 1494.5,541.9 1497.5,538.9 1497.5,531.0 1500.5,528.0 1500.5,518.4 1503.5,515.4 1503.5,506.7 1506.5,503.7 1506.5,495.9 1509.5,492.9 1509.5,483.6 1512.5,480.6 1512.5,470.3 1515.5,467.3 1515.5,457.5 1518.5,454.5 1518.5,444.6 1521.5,441.6 1521.5,432.3 1524.5,429.3 1524.5,420.3 1527.5,417.3 1527.5,408.6 1530.5,405.6 1530.5,398.0 1533.5,395.0 1533.5,388.6 1536.5,385.6 1536.5,379.9 1539.5,376.9 1539.5,370.7 1542.5,367.7 1542.5,361.5 1545.5,358.5 1545.5,352.6 1548.5,349.6 1548.5,344.2 1551.5,341.2 1551.5,336.4 1554.5,333.4 1554.5,329.2 1557.5,326.2 1557.5,322.2 1560.5,319.2 1560.5,314.8 1563.5,311.8 1563.5,308.1 1566.5,305.1 1566.5,303.5 1569.5,300.5 1569.5,299.0 1572.5,295.6 1575.5,293.0 1578.5,290.4 1581.5,286.5 1584.5,284.1 1587.5,282.6 1590.5,282.2 1593.5,282.7 1596.5,283.6 1599.5,284.6 1602.5,285.9 1605.5,287.8 1608.5,290.6 1608.5,291.4 1611.5,294.4 1611.5,299.3 1614.5,302.3 1614.5,304.7 1617.5,307.7 1617.5,309.5 1620.5,312.5 1620.5,318.8 1623.5,321.8 1623.5,328.3 1626.5,331.3 1626.5,338.5 1629.5,341.5 1629.5,349.5 1632.5,352.5 1632.5,361.6 1635.5,364.6 1635.5,374.2 1638.5,377.2 1638.5,385.5 1641.5,388.5 1641.5,396.1 1644.5,399.1 1644.5,407.9 1647.5,410.9 1647.5,421.7 1650.5,424.7 1650.5,436.2 1653.5,439.2 1653.5,450.5 1656.5,453.5 1656.5,467.4 1659.5,470.4 1659.5,482.0 1662.5,485.0 1662.5,497.5 1665.5,500.5 1665.5,513.5 1668.5,516.5 1668.5,527.8 1671.5,530.8 1671.5,540.0 1674.5,543.0 1674.5,552.0 1677.5,555.0 1677.5,562.8 1680.5,565.8 1680.5,572.6 1683.5,575.6 1683.5,585.2 1686.5,588.2 1686.5,605.7 1689.0,613.1 1689.0,628.2 1688.0,629.7 1688.0,640.6 1685.0,643.9 1682.0,645.1 1679.0,644.9 1676.0,642.6 1676.0,638.0 1673.0,635.0 1673.0,622.3 1670.0,619.3 1670.0,608.3 1667.0,605.3 1667.0,596.1 1664.0,593.1 1664.0,584.7 1661.0,581.7 1661.0,572.7 1658.0,569.7 1658.0,560.9 1655.0,557.9 1655.0,548.3 1652.0,545.3 1652.0,534.7 1649.0,531.7 1649.0,520.7 1646.0,517.7 1646.0,506.7 1643.0,503.7 1643.0,492.7 1640.0,489.7 1640.0,478.7 1637.0,475.7 1637.0,464.7 1634.0,461.7 1634.0,450.8 1631.0,447.8 1631.0,437.8 1628.0,434.8 1628.0,425.7 1625.0,422.7 1625.0,412.7 1622.0,409.7 1622.0,398.6 1619.0,395.6 1619.0,382.4 1616.0,379.4 1616.0,369.9 1613.0,366.9 1613.0,361.1 1610.0,358.1 1610.0,353.2 1607.0,350.2 1607.0,346.4 1604.0,343.4 1604.0,340.2 1601.0,337.2 1601.0,332.8 1598.0,329.8 1598.0,326.5 1595.0,323.5 1595.0,321.9 1592.0,318.4 1589.0,316.6 1586.0,319.4 1586.0,320.8 1583.0,323.9 1580.0,327.0 1580.0,328.6 1577.0,331.6 1577.0,335.7 1574.0,338.7 1574.0,343.0 1571.0,346.0 1571.0,350.0 1568.0,353.0 1568.0,358.2 1565.0,361.2 1565.0,367.5 1562.0,370.5 1562.0,377.2 1559.0,380.2 1559.0,386.0 1556.0,389.0 1556.0,395.2 1553.0,398.2 1553.0,405.9 1550.0,408.9 1550.0,418.6 1547.0,421.6 1547.0,431.4 1544.0,434.4 1544.0,444.1 1541.0,447.1 1541.0,459.1 1538.0,462.1 1538.0,474.9 1535.0,477.9 1535.0,489.5 1532.0,492.5 1532.0,503.2 1529.0,506.2 1529.0,517.3 1526.0,520.3 1526.0,533.1 1523.0,536.1 1523.0,549.5 1520.0,552.5 1520.0,561.5 1517.0,564.5 1517.0,572.7 1514.0,575.7 1514.0,584.7 1511.0,587.7 1511.0,597.2 1508.0,600.2 1508.0,609.0 1505.0,612.0 1505.0,620.8 1502.0,623.8 1502.0,631.8 1499.0,634.8 1499.0,643.5 1496.0,646.5 1496.0,655.0 1493.0,658.0 1493.0,665.8 1490.0,668.8 1490.0,675.3 1487.0,678.3 1487.0,683.4 1484.0,686.4 1484.0,690.5 1481.0,693.5 1481.0,697.1 1478.0,700.1 1478.0,703.7 1475.0,706.7 1475.0,710.3 1472.0,713.3 1472.0,717.2 1469.0,720.2 1469.0,724.5 1466.0,727.5 1466.0,731.0 1463.0,734.0 1463.0,736.8 1460.0,739.8 1460.0,741.9 1457.0,744.9 1457.0,746.9 1454.0,749.9 1454.0,752.0 1451.0,755.0 1451.0,755.8 1448.0,758.8 1445.0,761.5 1442.0,764.0 1439.0,766.2 1436.0,768.1 1433.0,769.9 1430.0,771.7 1427.0,773.5 1424.0,775.3 1421.0,777.1 1418.0,779.2 1415.0,781.4 1412.0,782.5 1409.0,782.7 1406.0,782.8 1403.0,782.9 1400.0,782.8 1397.0,782.3 1394.0,781.6 1391.0,780.7 1388.0,779.7 1385.0,778.4 1382.0,777.0 1379.0,775.4 1376.0,773.5 1373.0,771.4 1370.0,768.9 1367.0,765.9 1364.0,762.6 1364.0,761.4 1361.0,758.4 1361.0,757.0 1358.0,754.0 1358.0,752.6 1355.0,749.6 1355.0,748.0 1352.0,745.0 1352.0,742.9 1349.0,739.9 1349.0,737.6 1346.0,734.6 1346.0,731.8 1343.0,728.8 1343.0,725.7 1340.0,722.7 1340.0,719.7 1337.0,716.7 1337.0,713.7 1334.0,710.7 1334.0,707.6 1331.0,704.6 1331.0,701.1 1328.0,698.1 1328.0,693.8 1325.0,690.8 1325.0,685.6 1322.0,682.6 1322.0,677.0 1319.0,674.0 1319.0,668.0 1316.0,665.0 1316.0,659.1 1313.0,656.1 1313.0,649.9 1310.0,646.9 1310.0,640.4 1307.0,637.4 1307.0,630.8 1304.0,627.8 1304.0,621.2 1301.0,618.2 1301.0,611.5 1298.0,608.5 1298.0,601.3 1295.0,598.3 1295.0,590.4 1292.0,587.4 1292.0,579.7 1289.0,576.7 1289.0,568.7 1286.0,565.7 1286.0,558.0 1283.0,555.0 1283.0,548.2 1280.0,545.2 1280.0,538.0 1277.0,535.0 1277.0,527.1 1274.0,524.1 1274.0,515.3 1271.0,512.3 1271.0,503.8 1268.0,500.8 1268.0,492.0 1265.0,489.0 1265.0,479.3 1262.0,476.3 1262.0,465.8 1259.0,462.8 1259.0,453.2 1256.0,450.2 1256.0,440.2 1253.0,437.2 1253.0,428.7 1250.0,425.7 1250.0,418.0 1247.0,415.0 1247.0,407.7 1244.0,404.7 1244.0,397.8 1241.0,394.8 1241.0,388.7 1238.0,385.7 1238.0,380.8 1235.0,377.8 1235.0,373.4 1232.0,370.4 1232.0,365.9 1229.0,362.9 1229.0,359.2 1226.0,356.2 1226.0,353.6 1223.0,350.6 1223.0,348.7 1220.0,345.7 1220.0,343.5 1217.0,340.5 1217.0,338.8 1214.0,335.8 1214.0,334.3 1211.0,331.2 1208.0,331.1 1205.0,333.4 1202.0,336.6 1199.0,339.9 1199.0,341.7 1196.0,344.7 1196.0,347.4 1193.0,350.4 1193.0,353.2 1190.0,356.2 1190.0,358.4 1187.0,361.4 1187.0,365.6 1184.0,368.6 1184.0,372.8 1181.0,375.8 1181.0,380.3 1178.0,383.3 1178.0,388.5 1175.0,391.5 1175.0,398.4 1172.0,401.4 1172.0,409.9 1169.0,412.9 1169.0,422.1 1166.0,425.1 1166.0,433.3 1163.0,436.3 1163.0,445.6 1160.0,448.6 1160.0,459.5 1157.0,462.5 1157.0,473.8 1154.0,476.8 1154.0,489.1 1151.0,492.1 1151.0,503.8 1148.0,506.8 1148.0,517.5 1145.0,520.5 1145.0,531.0 1142.0,534.0 1142.0,543.7 1139.0,546.7 1139.0,555.1 1136.0,558.1 1136.0,567.4 1133.0,570.4 1133.0,582.0 1130.0,585.0 1130.0,597.4 1127.0,600.4 1127.0,612.1 1124.0,615.1 1124.0,624.4 1121.0,627.4 1121.0,636.0 1118.0,639.0 1118.0,647.9 1115.0,650.9 1115.0,660.3 1112.0,663.3 1112.0,672.7 1109.0,675.7 1109.0,683.1 1106.0,686.1 1106.0,691.9 1103.0,694.9 1103.0,700.5 1100.0,703.5 1100.0,710.3 1097.0,713.3 1097.0,720.4 1094.0,723.4 1094.0,730.0 1091.0,733.0 1091.0,738.5 1088.0,741.5 1088.0,745.9 1085.0,748.9 1085.0,752.9 1082.0,755.9 1082.0,760.6 1079.0,763.6 1079.0,766.9 1076.0,769.9 1076.0,772.0 1073.0,775.0 1073.0,778.0 1070.0,781.0 1070.0,783.8 1067.0,786.8 1067.0,788.8 1064.0,791.8 1064.0,793.8 1061.0,796.8 1061.0,798.8 1058.0,801.8 1058.0,804.0 1055.0,807.0 1055.0,808.7 1052.0,811.9 1049.0,814.7 1046.0,817.3 1043.0,819.5 1040.0,821.0 1037.0,822.1 1034.0,823.3 1031.0,825.5 1028.0,826.9 1025.0,826.8 1022.0,826.7 1019.0,826.5 1016.0,825.9 1013.0,823.9 1010.0,821.6 1007.0,819.5 1004.0,817.1 1001.0,814.4 998.0,811.4 995.0,808.0 995.0,806.0 992.0,803.0 992.0,800.3 989.0,797.3 989.0,795.1 986.0,792.1 986.0,789.9 983.0,786.9 983.0,784.3 980.0,781.3 980.0,778.1 977.0,775.1 977.0,770.8 974.0,767.8 974.0,762.9 971.0,759.9 971.0,755.5 968.0,752.5 968.0,747.8 965.0,744.8 965.0,739.7 962.0,736.7 962.0,730.8 959.0,727.8 959.0,721.6 956.0,718.6 956.0,712.7 953.0,709.7 953.0,704.6 950.0,701.6 950.0,695.6 947.0,692.6 947.0,684.5 944.0,681.5 944.0,672.7 941.0,669.7 941.0,662.6 938.0,659.6 938.0,654.0 935.0,651.0 935.0,645.3 932.0,642.3 932.0,635.2 929.0,632.2 929.0,623.6 926.0,620.6 926.0,611.0 923.0,608.0 923.0,598.3 920.0,595.3 920.0,585.3 917.0,582.3 917.0,570.7 914.0,567.7 914.0,554.9 911.0,551.9 911.0,540.4 908.0,537.4 908.0,526.4 905.0,523.4 905.0,512.1 902.0,509.1 902.0,496.8 899.0,493.8 899.0,482.3 896.0,479.3 896.0,469.8 893.0,466.8 893.0,456.9 890.0,453.9 890.0,444.1 887.0,441.1 887.0,432.5 884.0,429.5 884.0,420.5 881.0,417.5 881.0,407.7 878.0,404.7 878.0,395.2 875.0,392.2 875.0,382.3 872.0,379.3 872.0,370.1 869.0,367.1 869.0,360.8 866.0,357.8 866.0,352.8 863.0,349.8 863.0,345.2 860.0,342.2 860.0,337.9 857.0,334.9 857.0,332.1 854.0,329.1 854.0,324.2 851.0,321.2 851.0,320.1 848.0,317.5 845.0,317.2 842.0,319.4 839.0,322.3 836.0,325.8 836.0,329.8 833.0,332.8 833.0,338.8 830.0,341.8 830.0,346.4 827.0,349.4 827.0,354.7 824.0,357.7 824.0,363.3 821.0,366.3 821.0,372.1 818.0,375.1 818.0,380.9 815.0,383.9 815.0,390.4 812.0,393.4 812.0,401.3 809.0,404.3 809.0,413.3 806.0,416.3 806.0,427.6 803.0,430.6 803.0,442.0 800.0,445.0 800.0,454.1 797.0,457.1 797.0,465.6 794.0,468.6 794.0,479.5 791.0,482.5 791.0,495.2 788.0,498.2 788.0,510.9 785.0,513.9 785.0,526.1 782.0,529.1 782.0,540.0 779.0,543.0 779.0,551.3 776.0,554.3 776.0,562.6 773.0,565.6 773.0,576.4 770.0,579.4 770.0,588.5 767.0,591.5 767.0,599.7 764.0,602.7 764.0,611.4 761.0,614.4 761.0,623.2 758.0,626.2 758.0,634.9 755.0,637.9 755.0,646.9 752.0,649.9 752.0,658.4 749.0,661.4 749.0,668.5 746.0,671.5 746.0,677.8 743.0,680.8 743.0,685.4 740.0,688.4 740.0,692.0 737.0,695.0 737.0,698.0 734.0,701.0 734.0,704.4 731.0,707.4 731.0,711.1 728.0,714.1 728.0,718.3 725.0,721.3 725.0,725.7 722.0,728.7 722.0,732.3 719.0,735.3 719.0,737.6 716.0,740.6 716.0,741.4 713.0,744.4 713.0,745.9 710.0,748.9 710.0,751.0 707.0,754.0 707.0,756.3 704.0,759.3 704.0,760.8 701.0,763.8 698.0,766.2 695.0,768.3 692.0,770.2 689.0,771.9 686.0,773.7 683.0,775.8 680.0,778.1 677.0,780.0 674.0,781.6 671.0,782.9 668.0,783.4 665.0,783.4 662.0,783.4 659.0,783.4 656.0,783.1 653.0,782.1 650.0,780.8 647.0,779.7 644.0,778.8 641.0,777.9 638.0,776.9 635.0,775.9 632.0,774.6 629.0,772.7 626.0,769.7 623.0,766.4 623.0,765.4 620.0,762.4 620.0,760.6 617.0,757.6 617.0,756.5 614.0,753.3 611.0,750.1 611.0,748.7 608.0,745.7 608.0,741.4 605.0,738.4 605.0,735.1 602.0,732.1 602.0,730.2 599.0,727.2 599.0,724.4 596.0,721.4 596.0,717.3 593.0,714.3 593.0,710.6 590.0,707.6 590.0,704.7 587.0,701.7 587.0,698.3 584.0,695.3 584.0,690.9 581.0,687.9 581.0,682.8 578.0,679.8 578.0,673.7 575.0,670.7 575.0,663.3 572.0,660.3 572.0,653.5 569.0,650.5 569.0,644.3 566.0,641.3 566.0,635.8 563.0,632.8 563.0,626.7 560.0,623.7 560.0,617.4 557.0,614.4 557.0,608.1 554.0,605.1 554.0,598.7 551.0,595.7 551.0,588.0 548.0,585.0 548.0,575.9 545.0,572.9 545.0,563.8 542.0,560.8 542.0,551.9 539.0,548.9 539.0,540.4 536.0,537.4 536.0,529.8 533.0,526.8 533.0,519.1 530.0,516.1 530.0,506.8 527.0,503.8 527.0,495.1 524.0,492.1 524.0,484.1 521.0,481.1 521.0,472.4 518.0,469.4 518.0,459.7 515.0,456.7 515.0,448.2 512.0,445.2 512.0,437.4 509.0,434.4 509.0,425.8 506.0,422.8 506.0,414.2 503.0,411.2 503.0,403.2 500.0,400.2 500.0,392.9 497.0,389.9 497.0,383.6 494.0,380.6 494.0,375.0 491.0,372.0 491.0,366.2 488.0,363.2 488.0,359.8 485.0,356.8 485.0,353.5 482.0,350.5 482.0,348.1 479.0,345.1 479.0,344.1 476.0,341.1 476.0,340.3 473.0,337.3 473.0,336.0 470.0,332.7 467.0,331.0 464.0,331.8 461.0,333.9 458.0,336.8 455.0,339.8 455.0,341.8 452.0,344.8 452.0,348.5 449.0,351.5 449.0,354.9 446.0,357.9 446.0,358.6 443.0,361.6 443.0,365.6 440.0,368.6 440.0,373.2 437.0,376.2 437.0,381.1 434.0,384.1 434.0,390.6 431.0,393.6 431.0,402.3 428.0,405.3 428.0,415.6 425.0,418.6 425.0,427.5 422.0,430.5 422.0,438.2 419.0,441.2 419.0,449.4 416.0,452.4 416.0,462.7 413.0,465.7 413.0,476.2 410.0,479.2 410.0,491.2 407.0,494.2 407.0,505.7 404.0,508.7 404.0,518.6 401.0,521.6 401.0,531.5 398.0,534.5 398.0,543.7 395.0,546.7 395.0,557.3 392.0,560.3 392.0,572.8 389.0,575.8 389.0,592.5 386.0,595.5 386.0,606.1 383.0,609.1 383.0,618.1 380.0,621.1 380.0,629.5 377.0,632.5 377.0,640.2 374.0,643.2 374.0,652.6 371.0,655.6 371.0,665.5 368.0,668.5 368.0,677.8 365.0,680.8 365.0,688.5 362.0,691.5 362.0,698.0 359.0,701.0 359.0,706.8 356.0,709.8 356.0,715.9 353.0,718.9 353.0,724.6 350.0,727.6 350.0,732.4 347.0,735.4 347.0,739.4 344.0,742.4 344.0,745.8 341.0,748.8 341.0,752.2 338.0,755.2 338.0,758.9 335.0,761.9 335.0,766.4 332.0,769.4 332.0,773.3 329.0,776.3 329.0,779.4 326.0,782.4 326.0,785.4 323.0,788.4 323.0,791.4 320.0,794.4 320.0,797.7 317.0,800.7 317.0,802.4 314.0,805.4 314.0,806.1 311.0,809.3 308.0,812.6 305.0,815.6 302.0,818.4 299.0,821.0 296.0,823.2 293.0,824.7 290.0,826.0 287.0,826.8 284.0,827.0 281.0,827.1 278.0,827.2 275.0,827.1 272.0,825.7 269.0,823.7 266.0,821.7 263.0,819.3 260.0,816.6 257.0,813.6 254.0,810.3 251.0,807.1 251.0,806.2 248.0,803.2 248.0,801.1 245.0,798.1 245.0,794.7 242.0,791.7 242.0,788.8 239.0,785.8 239.0,782.8 236.0,779.8 236.0,776.8 233.0,773.8 233.0,769.9 230.0,766.9 230.0,762.1 227.0,759.1 227.0,754.1 224.0,751.1 224.0,746.1 221.0,743.1 221.0,738.2 218.0,735.2 218.0,730.0 215.0,727.0 215.0,720.2 212.0,717.2 212.0,708.6 209.0,705.6 209.0,697.4 206.0,694.4 206.0,686.6 203.0,683.6 203.0,676.3 200.0,673.3 200.0,666.4 197.0,663.4 197.0,656.2 194.0,653.2 194.0,649.1 191.0,646.1 191.0,645.1 189.5,643.6Z" fill="#db5426"/><path d="M196.5,637V625L199.5,608 M1682,612V632L1681,638.3" stroke="#db5426" fill="none" stroke-width="14" stroke-linecap="round" stroke-linejoin="round"/></g>
<g font-family="'Liberation Serif', serif" fill="#4d4d4f" stroke="#4d4d4f" stroke-width="0.3" stroke-linejoin="round"><text transform="matrix(0.9897 0 0 1 152.06 941.60)" font-size="70">1.1</text><text transform="matrix(1.0133 0 0 1 431.72 941.60)" font-size="70">1.12</text><text transform="matrix(0.9931 0 0 1 728.54 941.60)" font-size="70">1.14</text><text transform="matrix(0.9983 0 0 1 1025.81 941.60)" font-size="70">1.16</text><text transform="matrix(1.0070 0 0 1 1322.56 941.60)" font-size="70">1.18</text><text transform="matrix(1.0179 0 0 1 1637.79 941.60)" font-size="70">1.2</text></g>
<g font-family="'Liberation Serif', serif" fill="#4d4d4f" stroke="#4d4d4f" stroke-width="0.3" stroke-linejoin="round"><text transform="matrix(1.0062 0 0 1 113.18 754.00)" font-size="70">38</text><text transform="matrix(0.9612 0 0 1 115.24 588.00)" font-size="70">40</text><text transform="matrix(0.9908 0 0 1 115.21 422.00)" font-size="70">42</text><text transform="matrix(0.9471 0 0 1 115.25 256.00)" font-size="70">44</text><text transform="matrix(0.9612 0 0 1 115.24 90.00)" font-size="70">46</text></g>
<g font-family="'Liberation Serif', serif" fill="#4d4d4f" stroke="#4d4d4f" stroke-width="0.3" stroke-linejoin="round"><text transform="matrix(1 0 0 1.0 0 1030)" x="808.2 859.3 881.9 942.5 990.0 1001.4 1022.5 1047.5" y="0" font-size="80">Time [s]</text></g>
<g font-family="'Liberation Serif', serif" fill="#4d4d4f" stroke="#4d4d4f" stroke-width="0.3" stroke-linejoin="round" transform="translate(79.5,651) rotate(-90)"><text transform="matrix(1 0 0 1.0 0 0)" x="0.7 44.3 85.5 114.6 155.9 194.5 240.0 253.1 275.1 333.0 389.1" y="0" font-size="80">Torque [Nm]</text></g>
<path d="M1054 50H1513V209H1054Z" fill="#4d4d4f" shape-rendering="crispEdges"/><path d="M1060 55H1508V204H1060Z" fill="#fff" shape-rendering="crispEdges"/>
<rect x="1082" y="90" width="259" height="14" fill="#0a72b9"/>
<rect x="1082" y="155" width="259" height="14" fill="#db5426"/>
<g font-family="'Liberation Serif', serif" fill="#231f20" stroke="#231f20" stroke-width="0.5" stroke-linejoin="round"><text transform="matrix(1 0 0 1.046 0 110.1)" x="1360.1 1409.7 1445.0" y="0" font-size="54">MTO</text><text transform="matrix(1 0 0 1.046 0 175.1)" x="1360.1 1408.9 1445.0" y="0" font-size="54">MCL</text></g>
</svg>
</body></html>
